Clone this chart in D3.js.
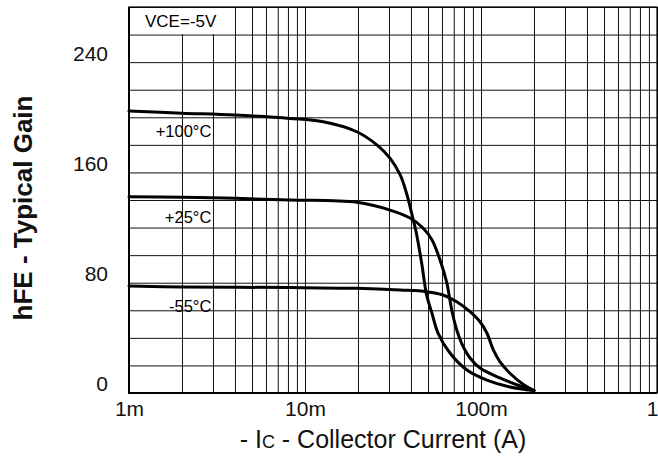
<!DOCTYPE html>
<html>
<head>
<meta charset="utf-8">
<script src="https://cdn.jsdelivr.net/npm/d3@7"></script>
<style>
  html, body { margin: 0; padding: 0; background: #fff; }
  svg { display: block; font-family: "Liberation Sans", Arial, Helvetica, sans-serif; }
</style>
</head>
<body>
<svg id="chart" width="658" height="456"></svg>
<script>
// hFE vs collector current, VCE = -5V, three junction temperatures
const yTicks = [0, 80, 160, 240];
const xTicks = [0.001, 0.01, 0.1, 1];
const xTickLabels = ["1m", "10m", "100m", "1"];

// collector current (A) and gain readings per temperature
const ic100 = [0.001, 0.002, 0.004, 0.0082, 0.0127, 0.0197, 0.0257, 0.0304, 0.0348, 0.038, 0.0406, 0.0428, 0.046, 0.0491, 0.0526, 0.057, 0.0666, 0.0832, 0.108, 0.146, 0.2];
const hfe100 = [204.5, 203, 201.6, 199.2, 196.7, 189.5, 179.8, 170.4, 158, 143.6, 129, 116.8, 94.3, 71, 58, 43.5, 29, 16.7, 9.4, 4.4, 1.8];

const ic25 = [0.001, 0.002, 0.004, 0.0082, 0.0197, 0.0304, 0.0395, 0.0468, 0.0527, 0.0585, 0.0638, 0.0682, 0.0728, 0.078, 0.0866, 0.0987, 0.128, 0.1666, 0.2];
const hfe25 = [142.4, 142, 141.2, 140, 138.3, 132.7, 126.9, 119.7, 111, 96.5, 80.5, 60.2, 45.7, 35.5, 25.4, 18.1, 10.9, 5.1, 1.8];

const icM55 = [0.001, 0.002, 0.0082, 0.0197, 0.0347, 0.0491, 0.0608, 0.0728, 0.0866, 0.0987, 0.108, 0.1175, 0.128, 0.146, 0.174, 0.2];
const hfeM55 = [77.6, 76.9, 76.5, 75.9, 74.7, 73.5, 71.1, 66.2, 59, 51.7, 43.5, 31.2, 22.7, 14.3, 6.2, 1.8];

const seriesNames = ["+100°C", "+25°C", "-55°C"];

const svg = d3.select("#chart");
const margin = { top: 7, right: 1, bottom: 63, left: 129 };
const W = 658 - margin.left - margin.right;
const H = 456 - margin.top - margin.bottom;

const x = d3.scaleLog().domain([0.001, 1]).range([0, W]);
const y = d3.scaleLinear().domain([0, 280]).range([H, 0]);

const g = svg.append("g").attr("transform", `translate(${margin.left},${margin.top})`);

// vertical grid: 1..9 in each decade
const xGridVals = [];
[0.001, 0.01, 0.1].forEach(d => { for (let k = 1; k <= 9; k++) xGridVals.push(d * k); });
xGridVals.push(1);

const grid = g.append("g").attr("class", "grid");
grid.append("g")
  .attr("transform", `translate(0,${H})`)
  .call(d3.axisBottom(x).tickValues(xGridVals).tickSize(-H).tickFormat(""))
  .call(s => s.select(".domain").remove())
  .call(s => s.selectAll("line").attr("stroke", "#111").attr("stroke-width", 1));

grid.append("g")
  .call(d3.axisLeft(y).tickValues(d3.range(0, 281, 20)).tickSize(-W).tickFormat(""))
  .call(s => s.select(".domain").remove())
  .call(s => s.selectAll("line").attr("stroke", "#111").attr("stroke-width", 1));

// label box in the upper-left corner
const boxRight = x(0.004);
const boxBottom = y(260);
g.append("rect")
  .attr("x", 1).attr("y", 1)
  .attr("width", boxRight - 1.5).attr("height", boxBottom - 1.5)
  .attr("fill", "#fff");
g.append("text")
  .attr("x", 16).attr("y", 20)
  .attr("font-size", 17).attr("fill", "#000")
  .text("VCE=-5V");

// frame
g.append("rect")
  .attr("x", 0).attr("y", 0).attr("width", W).attr("height", H)
  .attr("fill", "none").attr("stroke", "#000").attr("stroke-width", 1.2);
g.append("line").attr("x1", 0).attr("x2", 0).attr("y1", 0).attr("y2", H + 1)
  .attr("stroke", "#000").attr("stroke-width", 2);
g.append("line").attr("x1", -1).attr("x2", W).attr("y1", H).attr("y2", H)
  .attr("stroke", "#000").attr("stroke-width", 2.2);

// y tick labels
g.append("g")
  .call(d3.axisLeft(y).tickValues(yTicks).tickSize(0).tickPadding(21).tickFormat(d3.format("d")))
  .call(s => s.select(".domain").remove())
  .call(s => s.selectAll("text")
    .attr("font-size", 21)
    .attr("font-family", "Liberation Sans, Arial, sans-serif")
    .attr("fill", "#111")
    .attr("dy", "-0.1em"));

// x tick labels
g.append("g")
  .attr("transform", `translate(0,${H})`)
  .call(d3.axisBottom(x).tickValues(xTicks).tickSize(0).tickPadding(8)
    .tickFormat((d, i) => xTickLabels[i]))
  .call(s => s.select(".domain").remove())
  .call(s => s.selectAll("text")
    .attr("font-size", 21)
    .attr("font-family", "Liberation Sans, Arial, sans-serif")
    .attr("fill", "#111"))
  .call(s => s.selectAll(".tick").filter(d => d === 1).select("text")
    .attr("text-anchor", "end").attr("dx", 1));

// curves
const line = d3.line()
  .x(d => x(d[0]))
  .y(d => y(d[1]))
  .curve(d3.curveCatmullRom.alpha(0.5));

const series = [
  { name: seriesNames[0], ic: ic100, hfe: hfe100 },
  { name: seriesNames[1], ic: ic25, hfe: hfe25 },
  { name: seriesNames[2], ic: icM55, hfe: hfeM55 }
];

const curves = g.append("g");
series.forEach(s => {
  const pts = s.ic.map((v, i) => [v, s.hfe[i]]);
  curves.append("path")
    .datum(pts)
    .attr("d", line)
    .attr("fill", "none")
    .attr("stroke", "#000")
    .attr("stroke-width", 3)
    .attr("stroke-linejoin", "round")
    .attr("stroke-linecap", "round");
});

// temperature labels under each curve start
series.forEach(s => {
  g.append("text")
    .attr("x", x(0.0029) + 1)
    .attr("y", y(s.hfe[0]) + 26)
    .attr("text-anchor", "end")
    .attr("font-size", 16.5)
    .attr("fill", "#000")
    .text(s.name);
});

// axis titles
svg.append("text")
  .attr("transform", `translate(32,${margin.top + y(140) + 8}) rotate(-90)`)
  .attr("text-anchor", "middle")
  .attr("font-size", 26)
  .attr("font-weight", "bold")
  .attr("fill", "#111")
  .text("hFE - Typical Gain");

const xt = svg.append("text")
  .attr("x", 383).attr("y", 448)
  .attr("text-anchor", "middle")
  .attr("font-size", 25)
  .attr("fill", "#111");
xt.append("tspan").text("- I");
xt.append("tspan").attr("font-size", 18).text("C");
xt.append("tspan").text(" - Collector Current (A)");
</script>
</body>
</html>
